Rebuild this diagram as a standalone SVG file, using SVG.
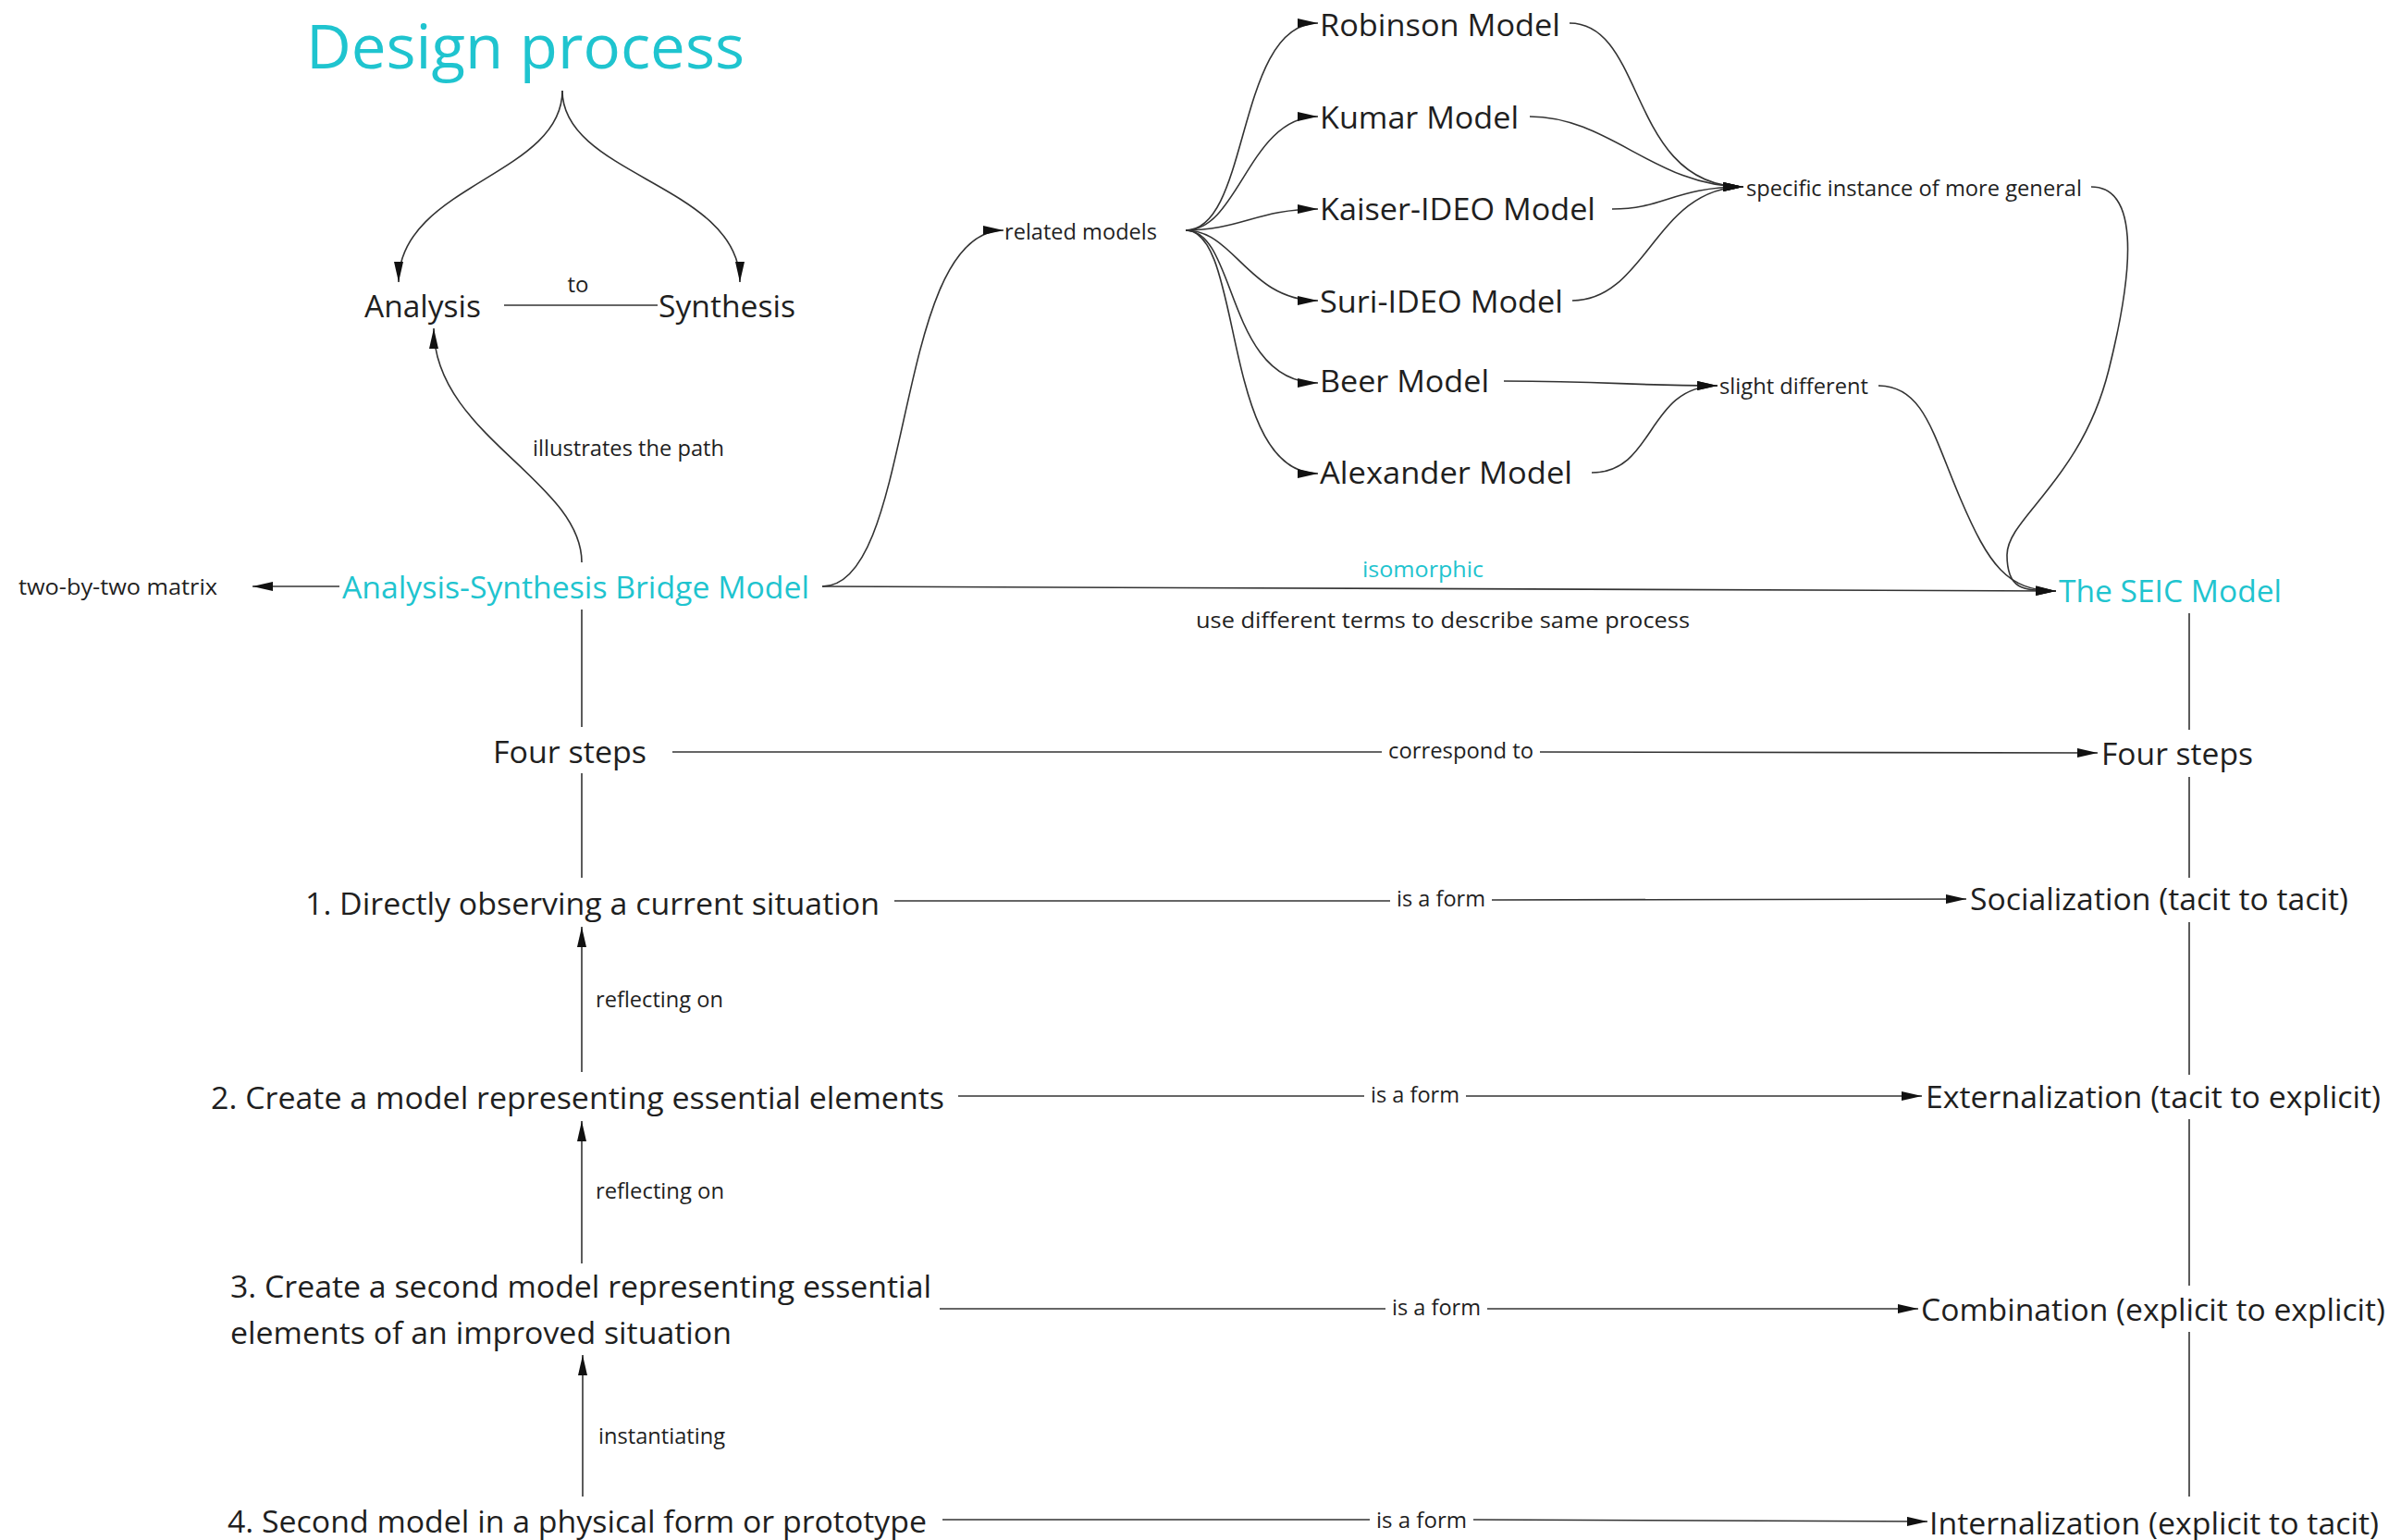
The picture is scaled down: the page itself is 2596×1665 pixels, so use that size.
<svg xmlns="http://www.w3.org/2000/svg" width="2596" height="1665" viewBox="0 0 2596 1665">
  <style>
    text { font-family: "Open Sans", "Noto Sans", "Liberation Sans", sans-serif; fill: #1f1f1f; }
    .title { font-size: 66px; fill: #1fc4cf; }
    .node { font-size: 33px; }
    .accent { fill: #1fc4cf; }
    .lbl { font-size: 24px; }
    .edge { fill: none; stroke: #333; stroke-width: 1.6; }
    .arrow { marker-end: url(#head); }
  </style>
  <defs>
    <marker id="head" viewBox="0 0 22 10" refX="22" refY="5" markerWidth="22" markerHeight="10" markerUnits="userSpaceOnUse" orient="auto">
      <path d="M0,0 L22,5 L0,10 Z" fill="#111"/>
    </marker>
  </defs>

  <rect width="2596" height="1665" fill="#fff"/>

  <!-- connectors -->
  <g id="connectors">
    <!-- Design process splits into Analysis and Synthesis -->
    <path class="edge arrow" d="M608,98 C608,190 431,200 431,305"/>
    <path class="edge arrow" d="M608,98 C608,190 800,200 800,305"/>
    <line class="edge" x1="545" y1="330" x2="711" y2="330"/>

    <!-- Bridge model -> Analysis -->
    <path class="edge arrow" d="M629,608 C629,520 469,470 469,355"/>
    <!-- Bridge model -> two-by-two matrix -->
    <line class="edge arrow" x1="367" y1="634" x2="273" y2="634"/>
    <!-- Bridge model -> related models -->
    <path class="edge arrow" d="M889,634 C990,634 965,249 1085,249"/>
    <!-- Bridge model -> SEIC (isomorphic) -->
    <line class="edge arrow" x1="889" y1="634" x2="2223" y2="639"/>

    <!-- related models fan -->
    <path class="edge arrow" d="M1282,249 C1352,249 1336,25 1425,25"/>
    <path class="edge arrow" d="M1282,249 C1340,249 1350,126 1425,126"/>
    <path class="edge arrow" d="M1282,249 C1340,249 1360,226 1425,226"/>
    <path class="edge arrow" d="M1282,249 C1335,249 1350,325 1425,325"/>
    <path class="edge arrow" d="M1282,249 C1338,249 1325,414 1425,414"/>
    <path class="edge arrow" d="M1282,249 C1345,249 1320,512 1425,512"/>

    <!-- models -> specific instance of more general -->
    <path class="edge arrow" d="M1697,25 C1780,25 1760,202 1885,202"/>
    <path class="edge arrow" d="M1654,126 C1740,126 1790,202 1885,202"/>
    <path class="edge arrow" d="M1743,226 C1800,226 1810,202 1885,202"/>
    <path class="edge arrow" d="M1700,325 C1780,325 1790,202 1885,202"/>

    <!-- models -> slight different -->
    <path class="edge arrow" d="M1626,412 C1740,412 1760,417 1857,417"/>
    <path class="edge arrow" d="M1721,511 C1790,511 1780,417 1857,417"/>

    <!-- into The SEIC Model -->
    <path class="edge arrow" d="M2261,202 C2310,202 2310,280 2280,400 S2170,560 2170,600 S2190,638 2223,639"/>
    <path class="edge arrow" d="M2031,417 C2080,417 2090,470 2120,540 C2150,610 2170,639 2223,639"/>

    <!-- left spine -->
    <line class="edge" x1="629" y1="659" x2="629" y2="786"/>
    <line class="edge" x1="629" y1="836" x2="629" y2="949"/>
    <line class="edge arrow" x1="629" y1="1159" x2="629" y2="1002"/>
    <line class="edge arrow" x1="629" y1="1366" x2="629" y2="1212"/>
    <line class="edge arrow" x1="630" y1="1618" x2="630" y2="1465"/>

    <!-- right spine -->
    <line class="edge" x1="2367" y1="663" x2="2367" y2="789"/>
    <line class="edge" x1="2367" y1="840" x2="2367" y2="949"/>
    <line class="edge" x1="2367" y1="997" x2="2367" y2="1162"/>
    <line class="edge" x1="2367" y1="1210" x2="2367" y2="1390"/>
    <line class="edge" x1="2367" y1="1440" x2="2367" y2="1618"/>

    <!-- step correspondences -->
    <line class="edge" x1="727" y1="813" x2="1494" y2="813"/>
    <line class="edge arrow" x1="1665" y1="813" x2="2268" y2="814"/>
    <line class="edge" x1="967" y1="974" x2="1503" y2="974"/>
    <line class="edge arrow" x1="1613" y1="973" x2="2126" y2="972"/>
    <line class="edge" x1="1036" y1="1185" x2="1475" y2="1185"/>
    <line class="edge arrow" x1="1585" y1="1185" x2="2078" y2="1185"/>
    <line class="edge" x1="1016" y1="1415" x2="1498" y2="1415"/>
    <line class="edge arrow" x1="1608" y1="1415" x2="2074" y2="1415"/>
    <line class="edge" x1="1019" y1="1643" x2="1481" y2="1643"/>
    <line class="edge arrow" x1="1593" y1="1643" x2="2084" y2="1645"/>
  </g>

  <!-- connector labels -->
  <g id="labels">
    <text class="lbl" x="625" y="316" text-anchor="middle">to</text>
    <text class="lbl" x="576" y="493" textLength="207" lengthAdjust="spacingAndGlyphs">illustrates the path</text>
    <text class="lbl" x="1086" y="259" textLength="165" lengthAdjust="spacingAndGlyphs">related models</text>
    <text class="lbl" x="1888" y="212" textLength="363" lengthAdjust="spacingAndGlyphs">specific instance of more general</text>
    <text class="lbl" x="1859" y="426" textLength="161" lengthAdjust="spacingAndGlyphs">slight different</text>
    <text class="lbl accent" x="1473" y="624" textLength="131" lengthAdjust="spacingAndGlyphs">isomorphic</text>
    <text class="lbl" x="1293" y="679" textLength="534" lengthAdjust="spacingAndGlyphs">use different terms to describe same process</text>
    <text class="lbl" x="1501" y="820" textLength="157" lengthAdjust="spacingAndGlyphs">correspond to</text>
    <text class="lbl" x="1510" y="980" textLength="96" lengthAdjust="spacingAndGlyphs">is a form</text>
    <text class="lbl" x="1482" y="1192" textLength="96" lengthAdjust="spacingAndGlyphs">is a form</text>
    <text class="lbl" x="1505" y="1422" textLength="96" lengthAdjust="spacingAndGlyphs">is a form</text>
    <text class="lbl" x="1488" y="1652" textLength="98" lengthAdjust="spacingAndGlyphs">is a form</text>
    <text class="lbl" x="644" y="1089" textLength="138" lengthAdjust="spacingAndGlyphs">reflecting on</text>
    <text class="lbl" x="644" y="1296" textLength="139" lengthAdjust="spacingAndGlyphs">reflecting on</text>
    <text class="lbl" x="647" y="1561" textLength="137" lengthAdjust="spacingAndGlyphs">instantiating</text>
  </g>

  <!-- nodes -->
  <g id="design-process"><text class="title" x="331" y="74" textLength="474" lengthAdjust="spacingAndGlyphs">Design process</text></g>
  <g id="analysis"><text class="node" x="394" y="343" textLength="126" lengthAdjust="spacingAndGlyphs">Analysis</text></g>
  <g id="synthesis"><text class="node" x="712" y="343" textLength="148" lengthAdjust="spacingAndGlyphs">Synthesis</text></g>
  <g id="two-by-two"><text class="lbl" x="20" y="643" textLength="215" lengthAdjust="spacingAndGlyphs">two-by-two matrix</text></g>
  <g id="bridge-model"><text class="node accent" x="370" y="647" textLength="505" lengthAdjust="spacingAndGlyphs">Analysis-Synthesis Bridge Model</text></g>
  <g id="robinson"><text class="node" x="1427" y="39" textLength="260" lengthAdjust="spacingAndGlyphs">Robinson Model</text></g>
  <g id="kumar"><text class="node" x="1427" y="139" textLength="215" lengthAdjust="spacingAndGlyphs">Kumar Model</text></g>
  <g id="kaiser-ideo"><text class="node" x="1427" y="238" textLength="298" lengthAdjust="spacingAndGlyphs">Kaiser-IDEO Model</text></g>
  <g id="suri-ideo"><text class="node" x="1427" y="338" textLength="263" lengthAdjust="spacingAndGlyphs">Suri-IDEO Model</text></g>
  <g id="beer"><text class="node" x="1427" y="424" textLength="183" lengthAdjust="spacingAndGlyphs">Beer Model</text></g>
  <g id="alexander"><text class="node" x="1427" y="523" textLength="273" lengthAdjust="spacingAndGlyphs">Alexander Model</text></g>
  <g id="seic-model"><text class="node accent" x="2226" y="651" textLength="241" lengthAdjust="spacingAndGlyphs">The SEIC Model</text></g>
  <g id="four-steps-left"><text class="node" x="533" y="825" textLength="166" lengthAdjust="spacingAndGlyphs">Four steps</text></g>
  <g id="four-steps-right"><text class="node" x="2272" y="827" textLength="164" lengthAdjust="spacingAndGlyphs">Four steps</text></g>
  <g id="step-1"><text class="node" x="330" y="989" textLength="621" lengthAdjust="spacingAndGlyphs">1. Directly observing a current situation</text></g>
  <g id="step-2"><text class="node" x="228" y="1199" textLength="793" lengthAdjust="spacingAndGlyphs">2. Create a model representing essential elements</text></g>
  <g id="step-3">
    <text class="node" x="249" y="1403" textLength="758" lengthAdjust="spacingAndGlyphs">3. Create a second model representing essential</text>
    <text class="node" x="249" y="1453" textLength="542" lengthAdjust="spacingAndGlyphs">elements of an improved situation</text>
  </g>
  <g id="step-4"><text class="node" x="246" y="1657" textLength="756" lengthAdjust="spacingAndGlyphs">4. Second model in a physical form or prototype</text></g>
  <g id="socialization"><text class="node" x="2130" y="984" textLength="409" lengthAdjust="spacingAndGlyphs">Socialization (tacit to tacit)</text></g>
  <g id="externalization"><text class="node" x="2082" y="1198" textLength="492" lengthAdjust="spacingAndGlyphs">Externalization (tacit to explicit)</text></g>
  <g id="combination"><text class="node" x="2077" y="1428" textLength="502" lengthAdjust="spacingAndGlyphs">Combination (explicit to explicit)</text></g>
  <g id="internalization"><text class="node" x="2086" y="1659" textLength="486" lengthAdjust="spacingAndGlyphs">Internalization (explicit to tacit)</text></g>
</svg>
